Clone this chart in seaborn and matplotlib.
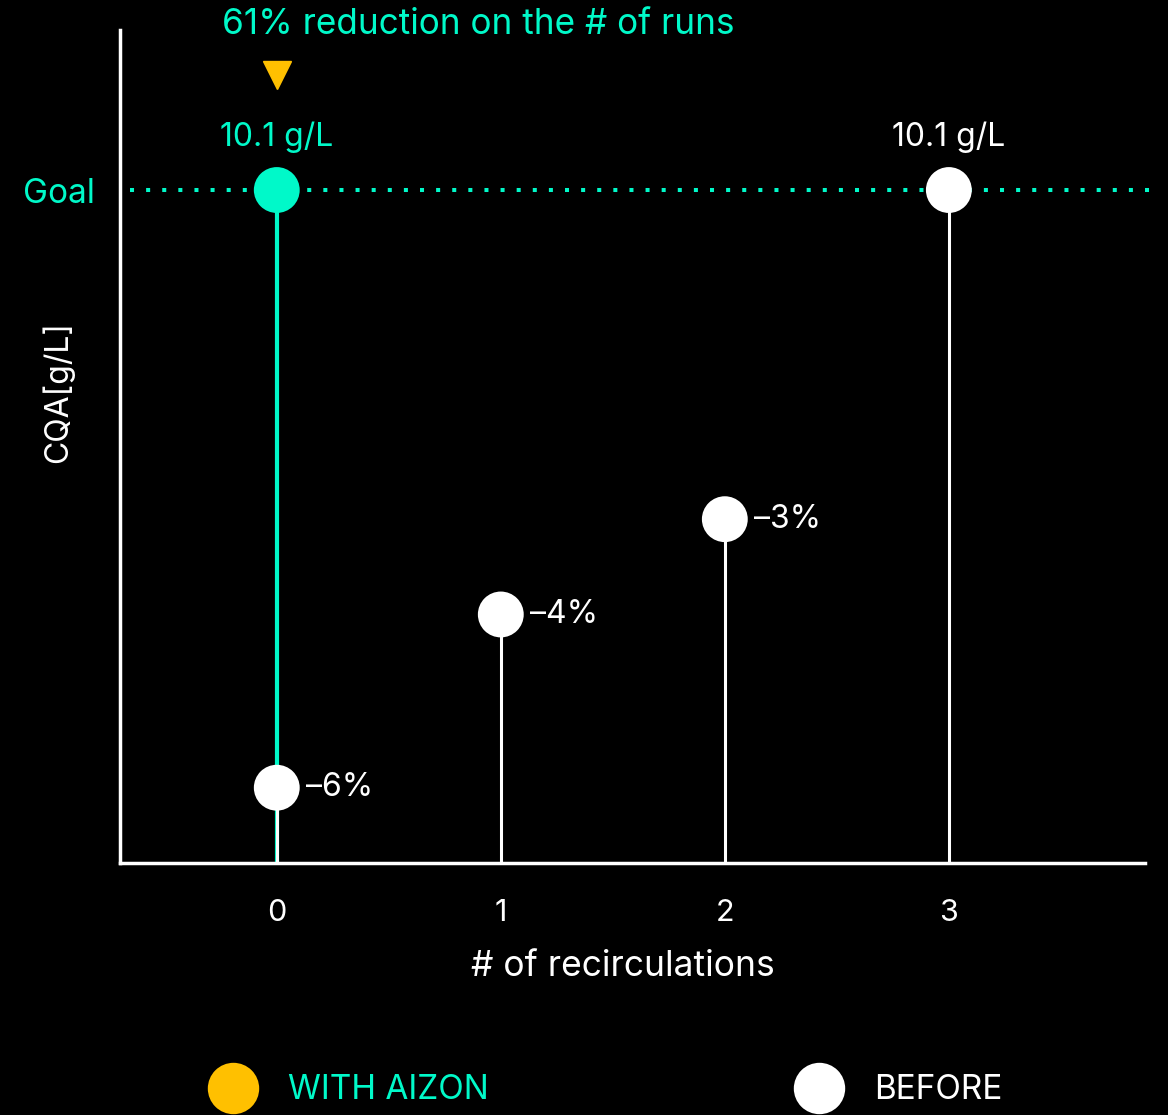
import matplotlib
matplotlib.use("Agg")
import matplotlib.pyplot as plt
import seaborn as sns
import pandas as pd
from matplotlib.lines import Line2D

# Data
recirculations = [0, 1, 2, 3]
before_cqa = [1.13, 3.73, 5.16, 10.1]
before_labels = ["–6%", "–4%", "–3%", "10.1 g/L"]
aizon_recirc = [0]
aizon_cqa = [10.1]
aizon_label = "10.1 g/L"
goal = 10.1
headline = "61% reduction on the # of runs"

CYAN = "#00F9C9"
ORANGE = "#FFC000"
WHITE = "#FFFFFF"
FS = 23

sns.set_theme(style="dark", rc={
    "figure.facecolor": "black",
    "axes.facecolor": "black",
    "savefig.facecolor": "black",
    "axes.edgecolor": WHITE,
    "text.color": WHITE,
    "xtick.color": WHITE,
    "ytick.color": WHITE,
    "axes.labelcolor": WHITE,
})
plt.rcParams["font.family"] = ["Inter", "DejaVu Sans"]

before = pd.DataFrame({"recirc": recirculations, "cqa": before_cqa, "label": before_labels})
aizon = pd.DataFrame({"recirc": aizon_recirc, "cqa": aizon_cqa})

fig = plt.figure(figsize=(11.68, 11.15), dpi=100)
ax = fig.add_axes([0.1027, 0.2260, 0.8775, 0.747])

ax.set_xlim(-0.70, 3.875)
ax.set_ylim(0, 12.5)

# goal line
ax.axhline(goal, color=CYAN, lw=2.9, linestyle=(0, (1, 3)), zorder=1,
           xmin=0.01, xmax=1.01, clip_on=False)

# stems
ax.vlines(aizon["recirc"], 0, aizon["cqa"], color=CYAN, lw=3.0, zorder=2)
ax.vlines(before["recirc"], 0, before["cqa"], color=WHITE, lw=2.2, zorder=3)

# markers
sns.scatterplot(data=before, x="recirc", y="cqa", ax=ax, color=WHITE, s=1090,
                edgecolor="none", zorder=4, legend=False)
sns.scatterplot(data=aizon, x="recirc", y="cqa", ax=ax, color=CYAN, s=1090,
                edgecolor="none", zorder=5, legend=False)

# value labels
for _, r in before.iterrows():
    if r["cqa"] >= goal:
        ax.annotate(r["label"], (r["recirc"], r["cqa"]), xytext=(0, 38),
                    textcoords="offset points", ha="center", va="center",
                    fontsize=FS, color=WHITE)
    else:
        ax.annotate(r["label"], (r["recirc"], r["cqa"]), xytext=(21, 0),
                    textcoords="offset points", ha="left", va="center",
                    fontsize=FS, color=WHITE)
for _, r in aizon.iterrows():
    ax.annotate(aizon_label, (r["recirc"], r["cqa"]), xytext=(0, 38),
                textcoords="offset points", ha="center", va="center",
                fontsize=FS, color=CYAN)
    ax.plot([r["recirc"]], [r["cqa"]], marker="v", ms=20, color=ORANGE,
            transform=ax.transData + matplotlib.transforms.ScaledTranslation(0, 115 / 100, fig.dpi_scale_trans),
            clip_on=False, zorder=6, linestyle="none")
    ax.annotate(headline, (r["recirc"], r["cqa"]), xytext=(145, 119),
                textcoords="offset points", ha="center", va="center",
                fontsize=25.3, color=CYAN, annotation_clip=False)

# axes styling
for side in ["top", "right"]:
    ax.spines[side].set_visible(False)
ax.spines["left"].set_linewidth(2.5)
ax.spines["bottom"].set_linewidth(2.5)
ax.set_xticks(recirculations)
ax.set_xticklabels([str(v) for v in recirculations])
ax.set_yticks([goal])
ax.set_yticklabels(["Goal"])
ax.tick_params(axis="x", length=0, pad=26, labelsize=FS - 1, colors=WHITE)
ax.tick_params(axis="y", length=0, pad=18, labelsize=FS + 1, labelcolor=CYAN)
ax.grid(False)
ax.set_xlabel("# of recirculations", fontsize=25.5)
ax.xaxis.set_label_coords(0.491, -0.104)
ax.set_ylabel("CQA[g/L]", fontsize=FS)
ax.yaxis.set_label_coords(-0.045, 0.565)

# legend
handles = [
    Line2D([], [], marker="o", linestyle="none", markersize=37,
           markerfacecolor=ORANGE, markeredgecolor="none", label="WITH AIZON"),
    Line2D([], [], marker="o", linestyle="none", markersize=37,
           markerfacecolor=WHITE, markeredgecolor="none", label="BEFORE"),
]
leg = fig.legend(handles=handles, loc="center left", bbox_to_anchor=(0.1566, 0.022),
                 ncol=2, frameon=False, fontsize=24, handletextpad=1.05,
                 columnspacing=9.3, handlelength=1.2)
leg.get_texts()[0].set_color(CYAN)
leg.get_texts()[1].set_color(WHITE)

fig.savefig("out.png", dpi=100, facecolor="black")
